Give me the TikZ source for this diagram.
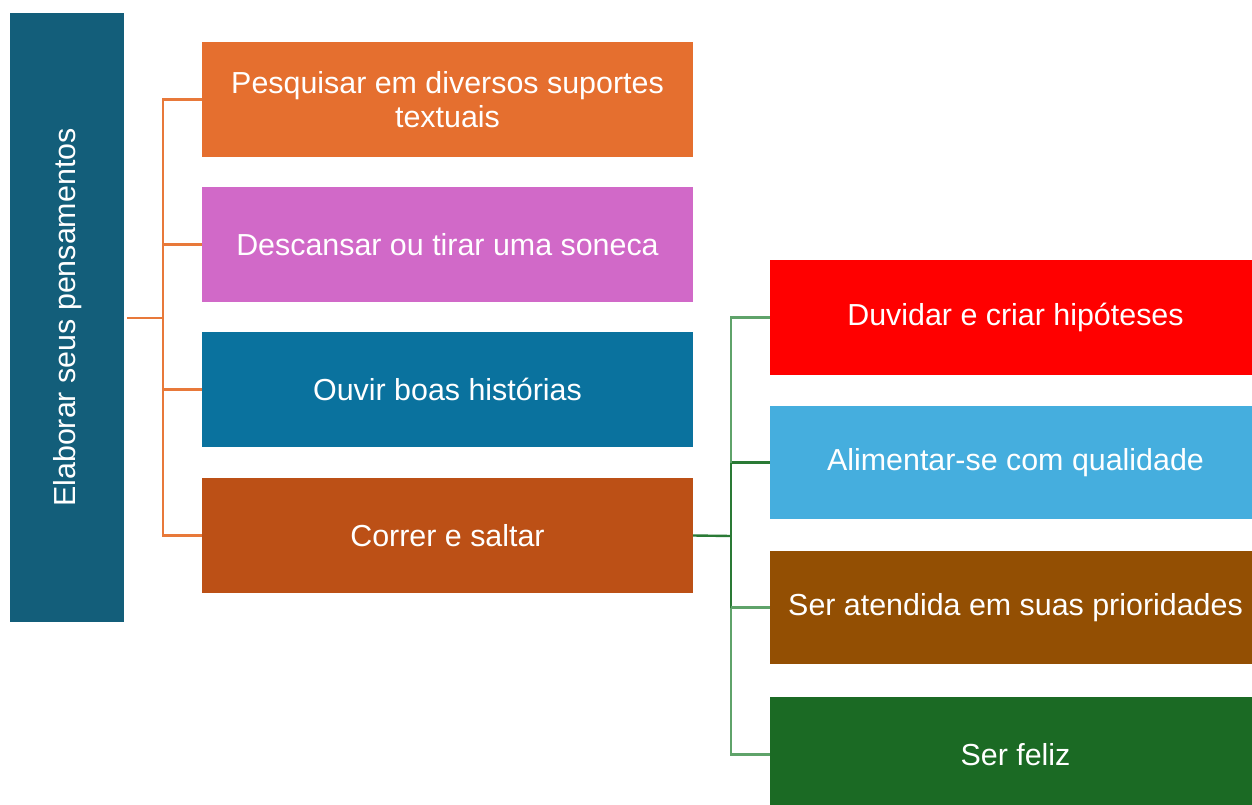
\documentclass[tikz,border=0pt]{standalone}
\usepackage{fontspec}
\setmainfont{Liberation Sans}
\definecolor{cLeft}{HTML}{135E7A}
\definecolor{cOrange}{HTML}{E56F2F}
\definecolor{cPink}{HTML}{D169C8}
\definecolor{cTeal}{HTML}{0A729E}
\definecolor{cRust}{HTML}{BC5016}
\definecolor{cRed}{HTML}{FF0000}
\definecolor{cLight}{HTML}{45AEDE}
\definecolor{cBrown}{HTML}{934F03}
\definecolor{cGreen}{HTML}{1B6A24}
\definecolor{lOrange}{HTML}{E8793A}
\definecolor{lGreenD}{HTML}{2A7A35}
\definecolor{lGreenL}{HTML}{5FA36A}
\begin{document}
\begin{tikzpicture}[x=1pt,y=-1pt,
  box/.style={rectangle, inner sep=0pt, text=white, align=center,
    font=\fontsize{30.4}{34}\selectfont, minimum width=491pt, minimum height=115pt},
  oline/.style={draw=lOrange, line width=2.4pt},
  gdark/.style={draw=lGreenD, line width=2.4pt},
  glight/.style={draw=lGreenL, line width=2.4pt}]
\useasboundingbox (0,0) rectangle (1252,805);
% left box
\node[box, fill=cLeft, minimum width=114pt, minimum height=609pt] (L) at (67,317.5) {};
\node[text=white, font=\fontsize{30.4}{34}\selectfont, rotate=90, inner sep=0pt] (Lt) at (68,317.5) {Elaborar seus pensamentos};
% middle column
\node[box, fill=cOrange] (b1) at (447.5,99.5) {Pesquisar em diversos suportes\\textuais};
\node[box, fill=cPink] (b2) at (447.5,244.5) {Descansar ou tirar uma soneca};
\node[box, fill=cTeal] (b3) at (447.5,389.5) {Ouvir boas histórias};
\node[box, fill=cRust] (b4) at (447.5,535.5) {Correr e saltar};
% right column
\node[box, fill=cRed] (r1) at (1015.5,317.5) {\raisebox{-2pt}{Duvidar e criar hipóteses}};
\node[box, fill=cLight, minimum height=113pt] (r2) at (1015.5,462.5) {\raisebox{-2pt}{Alimentar-se com qualidade}};
\node[box, fill=cBrown, minimum height=113pt] (r3) at (1015.5,607.5) {\raisebox{-2pt}{Ser atendida em suas prioridades}};
\node[box, fill=cGreen] (r4) at (1015.5,754.5) {Ser feliz};
% orange connectors
\coordinate (os) at (163,318);
\coordinate (ls) at (127,318);
\draw[oline] (ls) -- (os);
\draw[oline] (b1.west) -- (b1.west -| os) -- (b4.west -| os) -- (b4.west);
\draw[oline] (b2.west) -- (b2.west -| os);
\draw[oline] (b3.west) -- (b3.west -| os);
% green connectors
\coordinate (gs) at (731,536);
\draw[gdark] (b4.east) -- (gs);
\draw[gdark] (r2.west -| gs) -- (r3.west -| gs);
\draw[gdark] (r2.west) -- (r2.west -| gs);
\draw[glight] (r3.west) -- (r3.west -| gs);
\draw[glight] (r1.west) -- (r1.west -| gs) -- (r2.west -| gs);
\draw[glight] (r3.west -| gs) -- (r4.west -| gs) -- (r4.west);
\end{tikzpicture}
\end{document}
